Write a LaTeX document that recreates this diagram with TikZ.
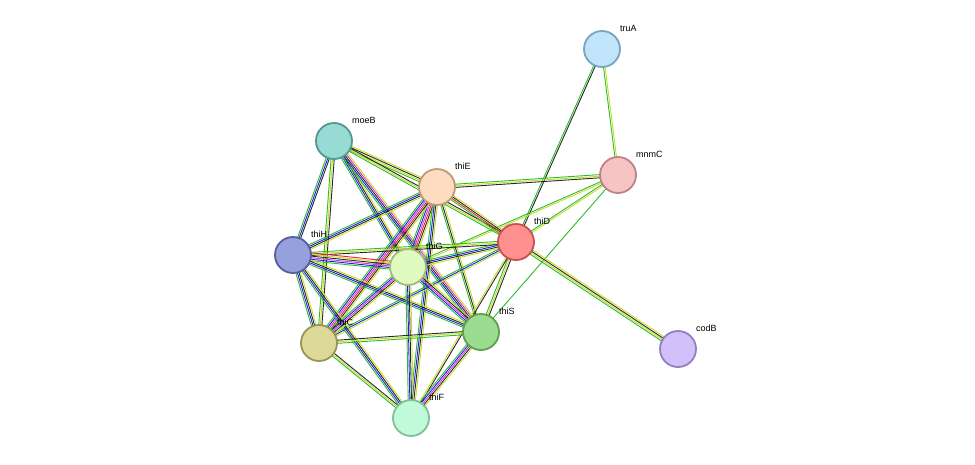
\documentclass[tikz,border=0pt]{standalone}
\usepackage{fontspec}
\setmainfont{Liberation Sans}
\usetikzlibrary{calc}
\definecolor{eg}{RGB}{40,190,40}
\definecolor{eb}{RGB}{30,30,230}
\definecolor{ek}{RGB}{40,40,40}
\definecolor{el}{RGB}{200,220,40}
\definecolor{em}{RGB}{220,50,220}
\definecolor{er}{RGB}{230,40,40}
\tikzset{
 prot/.style={circle,minimum size=36pt,inner sep=0pt,line width=1.8pt},
 lab/.style={anchor=base west,font=\fontsize{9}{10}\selectfont,inner sep=0pt},
 eline/.style={line width=0.9pt}
}
\newcommand{\bund}[4]{% a b n colors
 \foreach \c [count=\i] in {#4}{
  \pgfmathsetmacro{\o}{(\i-(#3+1)/2)*1.6}
  \draw[eline,color=\c] ($(#1)!\o pt!90:(#2)$) -- ($(#2)!\o pt!-90:(#1)$);
 }}
\begin{document}
\begin{tikzpicture}[x=1pt,y=-1pt]
\useasboundingbox (0,0) rectangle (975,464);
\coordinate (truA) at (602,49);
\coordinate (mnmC) at (618,175);
\coordinate (moeB) at (334,141);
\coordinate (thiE) at (437,187);
\coordinate (thiD) at (516,242);
\coordinate (thiH) at (293,255);
\coordinate (thiG) at (408,267);
\coordinate (thiC) at (319,343);
\coordinate (thiS) at (481,332);
\coordinate (thiF) at (411,418);
\coordinate (codB) at (678,349);
\bund{truA}{mnmC}{2}{eg,el}
\bund{truA}{thiD}{2}{eg,ek}
\bund{mnmC}{thiE}{3}{eg,el,ek}
\bund{mnmC}{thiD}{2}{eg,el}
\bund{mnmC}{thiG}{2}{eg,el}
\bund{mnmC}{thiS}{1}{eg}
\bund{thiD}{codB}{4}{eg,el,ek,el}
\bund{moeB}{thiE}{4}{eg,el,ek,el}
\bund{moeB}{thiD}{3}{eg,el,ek}
\bund{moeB}{thiH}{3}{eg,eb,ek}
\bund{moeB}{thiG}{4}{eg,eb,ek,el}
\bund{moeB}{thiC}{3}{eg,el,ek}
\bund{moeB}{thiS}{5}{eg,eb,ek,em,el}
\bund{thiE}{thiD}{4}{eg,er,ek,el}
\bund{thiE}{thiH}{4}{eg,eb,ek,el}
\bund{thiE}{thiG}{6}{eg,eb,em,er,ek,el}
\bund{thiE}{thiC}{6}{eg,eb,em,er,ek,el}
\bund{thiE}{thiS}{3}{eg,ek,el}
\bund{thiE}{thiF}{4}{eg,eb,ek,el}
\bund{thiD}{thiG}{4}{eg,eb,ek,el}
\bund{thiD}{thiH}{3}{eg,el,ek}
\bund{thiD}{thiS}{3}{eg,el,ek}
\bund{thiD}{thiC}{3}{eg,eb,el}
\bund{thiD}{thiF}{2}{el,ek}
\bund{thiH}{thiG}{6}{eg,eb,em,ek,el,er}
\bund{thiH}{thiC}{4}{eg,eb,ek,el}
\bund{thiH}{thiS}{4}{eg,eb,ek,el}
\bund{thiH}{thiF}{4}{eg,eb,ek,el}
\bund{thiG}{thiC}{5}{eg,eb,em,ek,el}
\bund{thiG}{thiS}{5}{eg,eb,em,ek,el}
\bund{thiG}{thiF}{4}{eg,eb,ek,el}
\bund{thiC}{thiS}{3}{eg,el,ek}
\bund{thiC}{thiF}{3}{eg,el,ek}
\bund{thiS}{thiF}{5}{eg,eb,em,ek,el}
\node[prot,fill={rgb,255:red,192;green,228;blue,250},draw={rgb,255:red,120;green,165;blue,190}] (nA) at (truA) {};
\node[prot,fill={rgb,255:red,246;green,196;blue,196},draw={rgb,255:red,190;green,130;blue,130}] (nM) at (mnmC) {};
\node[prot,fill={rgb,255:red,150;green,220;blue,212},draw={rgb,255:red,85;green,150;blue,145}] (nB) at (moeB) {};
\node[prot,fill={rgb,255:red,253;green,220;blue,192},draw={rgb,255:red,190;green,155;blue,120}] (nE) at (thiE) {};
\node[prot,fill={rgb,255:red,255;green,144;blue,144},draw={rgb,255:red,200;green,80;blue,80}] (nD) at (thiD) {};
\node[prot,fill={rgb,255:red,150;green,160;blue,220},draw={rgb,255:red,85;green,95;blue,160}] (nH) at (thiH) {};
\node[prot,fill={rgb,255:red,224;green,250;blue,192},draw={rgb,255:red,160;green,185;blue,128}] (nG) at (thiG) {};
\node[prot,fill={rgb,255:red,220;green,218;blue,150},draw={rgb,255:red,150;green,150;blue,90}] (nC) at (thiC) {};
\node[prot,fill={rgb,255:red,156;green,220;blue,144},draw={rgb,255:red,94;green,160;blue,80}] (nS) at (thiS) {};
\node[prot,fill={rgb,255:red,192;green,250;blue,216},draw={rgb,255:red,128;green,192;blue,152}] (nF) at (thiF) {};
\node[prot,fill={rgb,255:red,210;green,192;blue,250},draw={rgb,255:red,144;green,128;blue,192}] (nO) at (codB) {};
\foreach \n in {truA,mnmC,moeB,thiE,thiD,thiH,thiG,thiC,thiS,thiF,codB}
 \node[lab] (l\n) at ($(\n)+(18,-18)$) {\n};
\end{tikzpicture}
\end{document}
